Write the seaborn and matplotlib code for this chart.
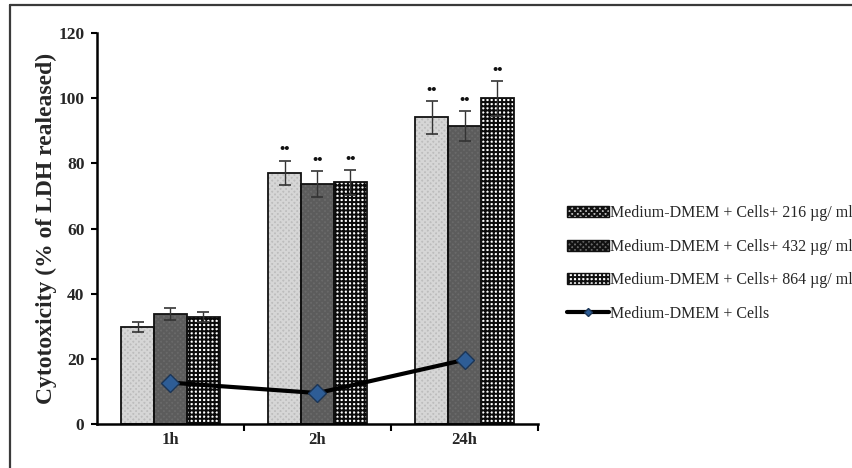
import numpy as np
import pandas as pd
import matplotlib
matplotlib.use("Agg")
import matplotlib.pyplot as plt
from matplotlib.patches import Rectangle, Patch
from matplotlib.lines import Line2D
import seaborn as sns

# ---- data -------------------------------------------------------------
times = ["1h", "2h", "24h"]
doses = ["Medium-DMEM + Cells+ 216 µg/ ml",
         "Medium-DMEM + Cells+ 432 µg/ ml",
         "Medium-DMEM + Cells+ 864 µg/ ml"]
control_label = "Medium-DMEM + Cells"

vals_216 = [29.8, 77.0, 94.1]
vals_432 = [33.7, 73.6, 91.5]
vals_864 = [32.8, 74.2, 99.9]
err_216 = [1.5, 3.8, 5.0]
err_432 = [1.8, 4.0, 4.6]
err_864 = [1.6, 3.8, 5.3]
control = [12.7, 9.5, 19.7]

sig_marks = [["", "••", "••"],
             ["", "••", "••"],
             ["", "••", "••"]]

yticks = [0, 20, 40, 60, 80, 100, 120]

# ---- styling ----------------------------------------------------------
sns.set_theme(style="white")
plt.rcParams["font.family"] = ["Liberation Serif", "DejaVu Serif"]
plt.rcParams["hatch.linewidth"] = 1.45

bar_styles = [
    dict(face="#bdbdbd", hatch="xxxxxx", hcol="#d6d6d6"),
    dict(face="#6a6a6a", hatch="xxxxxx", hcol="#5c5c5c"),
    dict(face="#ffffff", hatch="++++", hcol="#0a0a0a"),
]

values = [vals_216, vals_432, vals_864]
errors = [err_216, err_432, err_864]

df = pd.DataFrame({
    "time": np.tile(times, len(doses)),
    "dose": np.repeat(doses, len(times)),
    "value": np.concatenate(values),
})

fig = plt.figure(figsize=(8.52, 4.68), dpi=100)
ax = fig.add_axes([0.1138, 0.094, 0.5177, 0.8355])

sns.barplot(data=df, x="time", y="value", hue="dose", order=times,
            hue_order=doses, errorbar=None, width=0.67, gap=0,
            legend=False, ax=ax)

for cont, st, errs, marks in zip(ax.containers, bar_styles, errors, sig_marks):
    xs, ys = [], []
    for p in cont.patches:
        p.set_facecolor(st["face"])
        p.set_edgecolor(st["hcol"])
        p.set_hatch(st["hatch"])
        p.set_linewidth(0)
        ax.add_patch(Rectangle((p.get_x(), p.get_y()), p.get_width(),
                               p.get_height(), fill=False,
                               edgecolor="#111111", lw=1.3, zorder=1.5))
        xs.append(p.get_x() + p.get_width() / 2)
        ys.append(p.get_height())
    ax.errorbar(xs, ys, yerr=errs, fmt="none", ecolor="#333333",
                elinewidth=1.0, capsize=4, capthick=1.2, zorder=3)
    for x, y, e, m in zip(xs, ys, errs, marks):
        if m:
            ax.text(x, y + e + 3.3, m, ha="center", va="center",
                    fontsize=10.5, fontweight="bold", color="#111111")

n_before = len(ax.lines)
sns.pointplot(x=times, y=control, order=times, color="black",
              markers="D", linestyles="-", errorbar=None, ax=ax,
              linewidth=3, markersize=9)
for ln in ax.lines[n_before:]:
    ln.set_markerfacecolor("#2e5d96")
    ln.set_markeredgecolor("#1b3556")
    ln.set_markeredgewidth(1.0)
    ln.set_zorder(4)

# ---- axes -------------------------------------------------------------
ax.set_xlim(-0.5, 2.5)
ax.set_ylim(0, 120)
ax.set_yticks(yticks)
ax.set_yticklabels([str(t) for t in yticks], fontsize=12.5, fontweight="bold")
ax.set_xticks(range(len(times)))
ax.set_xticklabels(times, fontsize=12, fontweight="bold")
ax.set_xticks([0.5, 1.5, 2.5], minor=True)
ax.tick_params(axis="x", which="major", length=0, pad=6)
ax.tick_params(axis="x", which="minor", length=5, width=1.5,
               direction="out", color="black", bottom=True)
ax.tick_params(axis="y", which="major", length=4, width=1.5,
               direction="out", color="black", left=True, pad=5)
ax.set_xlabel("")
ax.set_ylabel("Cytotoxicity (% of LDH realeased)", fontsize=17,
              fontweight="bold", labelpad=1)
for side in ["top", "right"]:
    ax.spines[side].set_visible(False)
for side in ["left", "bottom"]:
    ax.spines[side].set_color("black")
    ax.spines[side].set_linewidth(1.8)
ax.grid(False)
ax.set_facecolor("white")

# ---- legend -----------------------------------------------------------
handles = []
for st in bar_styles:
    handles.append(Patch(facecolor=st["face"], edgecolor=st["hcol"],
                         hatch=st["hatch"], linewidth=0))
handles.append(Line2D([], [], color="black", lw=3, marker="D",
                      markersize=4, markerfacecolor="#2e5d96",
                      markeredgecolor="#1b3556"))
leg = fig.legend(handles, doses + [control_label], loc="upper left",
                 bbox_to_anchor=(0.658, 0.575), frameon=False,
                 fontsize=11.5, handlelength=2.6, handleheight=0.7,
                 handletextpad=0.1, labelspacing=1.1, borderaxespad=0)
for h in leg.legend_handles[:3]:
    h.set_edgecolor("#111111")
    h.set_linewidth(1.0)

# ---- frame lines on the left and top of the figure ---------------------
fig.add_artist(Line2D([0.012, 0.012], [0.0, 0.989], color="#3a3a3a",
                      lw=1.6, transform=fig.transFigure))
fig.add_artist(Line2D([0.012, 1.0], [0.989, 0.989], color="#3a3a3a",
                      lw=1.6, transform=fig.transFigure))

fig.savefig("out.png", dpi=100, facecolor="white")
